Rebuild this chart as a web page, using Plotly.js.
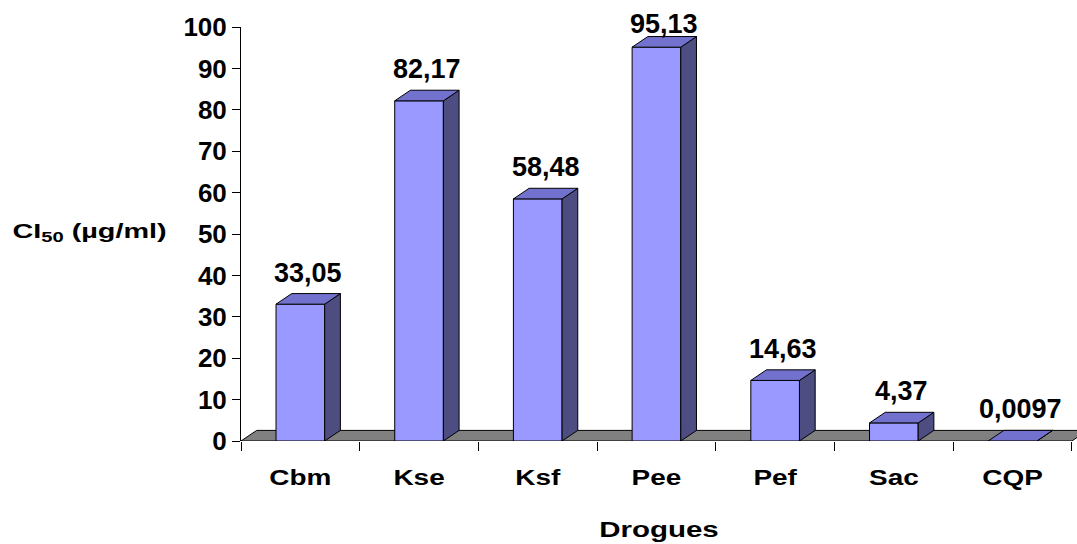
<!DOCTYPE html>
<html>
<head>
<meta charset="utf-8">
<script src="https://cdn.plot.ly/plotly-3.0.1.min.js"></script>
<style>
  html, body { margin: 0; padding: 0; background: #ffffff; }
  #chart { width: 1077px; height: 544px; }
</style>
</head>
<body>
<div id="chart"></div>
<script>
// IC50 per drug
const categories = ['Cbm', 'Kse', 'Ksf', 'Pee', 'Pef', 'Sac', 'CQP'];
const values = [33.05, 82.17, 58.48, 95.13, 14.63, 4.37, 0.0097];
const valueLabels = ['33,05', '82,17', '58,48', '95,13', '14,63', '4,37', '0,0097'];
const yTickValues = [0, 10, 20, 30, 40, 50, 60, 70, 80, 90, 100];

// ---- geometry of the pseudo-3D drawing ----
const W = 1077, H = 544;
const M = { l: 241, r: 0, t: 27, b: 103 };
const plotW = W - M.l - M.r;
const plotH = H - M.t - M.b;
const slotPx = 118.7;                 // width of one category slot
const yMax = 100;
const xMin = -0.5;
const xMax = xMin + plotW / slotPx;
const pxPerUnit = plotH / yMax;
const depthPxX = 15.7, depthPxY = 10.6;  // oblique depth of bars and floor
const dX = depthPxX / slotPx;
const dY = depthPxY / pxPerUnit;
const halfW = 0.205;                  // half width of the bar front face
const labelCeil = 95.6;               // keeps the tallest label inside the chart

const FONT = 'Liberation Sans, Arial, Helvetica, sans-serif';
const n = categories.length;
const idx = categories.map((_, i) => i);
const boundaries = [];
for (let i = 0; i <= n; i++) boundaries.push(i - 0.5);

// side and top faces of every bar, as closed polygons
const sideX = [], sideY = [], topX = [], topY = [];
values.forEach((v, i) => {
  const l = i - halfW, r = i + halfW;
  sideX.push(r, r + dX, r + dX, r, r, null);
  sideY.push(0, dY, v + dY, v, 0, null);
  topX.push(l, l + dX, r + dX, r, l, null);
  topY.push(v, v + dY, v + dY, v, v, null);
});

const frontFaces = {
  type: 'bar', x: idx, y: values, width: 2 * halfW,
  marker: { color: '#9999FF', line: { color: '#000000', width: 1 } },
  hoverinfo: 'skip', showlegend: false
};
const sideFaces = {
  type: 'scatter', mode: 'lines', x: sideX, y: sideY, fill: 'toself',
  fillcolor: '#4D4D82', line: { color: '#000000', width: 1 },
  hoverinfo: 'skip', showlegend: false
};
const topFaces = {
  type: 'scatter', mode: 'lines', x: topX, y: topY, fill: 'toself',
  fillcolor: '#7272CE', line: { color: '#000000', width: 1 },
  hoverinfo: 'skip', showlegend: false
};

// floor under the bars
const floorPath = `M ${xMin},0 L ${n - 0.5},0 L ${n - 0.5 + dX},${dY} L ${xMin + dX},${dY} Z`;

const annotations = [{
  xref: 'paper', yref: 'paper',
  x: (89.2 - M.l) / plotW, y: (plotH - (232 - M.t)) / plotH,
  xanchor: 'center', yanchor: 'middle',
  text: 'CI<sub>50</sub> (µg/ml)', showarrow: false,
  font: { family: FONT, size: 20, color: '#000000', weight: 'bold' }
}];
values.forEach((v, i) => {
  annotations.push({
    xref: 'x', yref: 'y', x: i + dX / 2, y: Math.min(v + dY, labelCeil),
    xanchor: 'center', yanchor: 'bottom', yshift: 4,
    text: valueLabels[i], showarrow: false,
    font: { family: FONT, size: 27, color: '#000000', weight: 'bold' }
  });
});

const layout = {
  width: W, height: H,
  margin: M,
  paper_bgcolor: '#ffffff', plot_bgcolor: '#ffffff',
  showlegend: false,
  bargap: 0,
  xaxis: {
    range: [xMin, xMax],
    tickmode: 'array', tickvals: idx, ticktext: categories,
    ticks: '', showgrid: false, zeroline: false, showline: false,
    tickfont: { family: FONT, size: 22, color: '#000000', weight: 'bold' },
    ticklabelstandoff: 21,
    minor: { tickmode: 'array', tickvals: boundaries, ticks: 'outside', ticklen: 9,
             tickwidth: 1, tickcolor: '#000000', showgrid: false },
    title: { text: 'Drogues', standoff: 32,
             font: { family: FONT, size: 22, color: '#000000', weight: 'bold' } },
    fixedrange: true
  },
  yaxis: {
    range: [0, yMax],
    tickmode: 'array', tickvals: yTickValues,
    ticks: 'outside', ticklen: 8, tickwidth: 1, tickcolor: '#000000',
    showline: true, linecolor: '#000000', linewidth: 1,
    showgrid: false, zeroline: false,
    tickfont: { family: FONT, size: 26, color: '#000000', weight: 'bold' },
    fixedrange: true
  },
  shapes: [{
    type: 'path', xref: 'x', yref: 'y', path: floorPath, layer: 'below',
    fillcolor: '#808080', line: { color: '#000000', width: 1 }
  }],
  annotations: annotations
};

// widen a set of svg texts horizontally around their anchor
function widen(nodes, k) {
  nodes.forEach(t => {
    const w = t.getComputedTextLength();
    if (w > 0) {
      t.setAttribute('textLength', (w * k).toFixed(1));
      t.setAttribute('lengthAdjust', 'spacingAndGlyphs');
    }
  });
}

Plotly.newPlot('chart', [frontFaces, sideFaces, topFaces], layout, { staticPlot: true }).then(gd => {
  widen(gd.querySelectorAll('.xtick text'), 1.27);
  widen(gd.querySelectorAll('.g-xtitle text'), 1.34);
  widen(gd.querySelectorAll('.annotation[data-index="0"] text'), 1.44);
});
</script>
</body>
</html>
